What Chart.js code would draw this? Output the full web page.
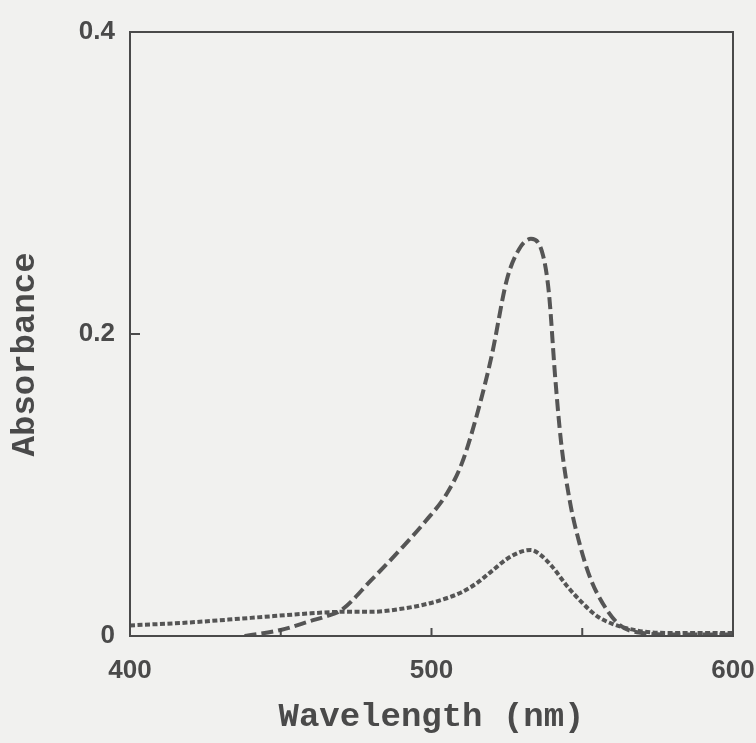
<!DOCTYPE html>
<html>
<head>
<meta charset="utf-8">
<script src="https://cdn.jsdelivr.net/npm/chart.js@4"></script>
<style>
  html, body { margin: 0; padding: 0; background: #f1f1ef; }
  #wrap { width: 756px; height: 743px; }
</style>
</head>
<body>
<div id="wrap"><canvas id="chart" width="756" height="743"></canvas></div>
<script>
// long-dash curve
const dashWl  = [438, 450, 460, 465, 470, 480, 490, 498, 505, 510, 515, 520, 525, 529, 533, 537, 539, 541, 543, 546, 549, 552, 555, 562, 570, 580, 590, 600]
const dashAbs = [0.000, 0.004, 0.010, 0.013, 0.017, 0.037, 0.058, 0.076, 0.094, 0.114, 0.146, 0.186, 0.236, 0.256, 0.263, 0.252, 0.226, 0.172, 0.128, 0.088, 0.062, 0.042, 0.028, 0.008, 0.002, 0.001, 0.001, 0.001]

// dotted curve
const dotWl  = [400, 420, 440, 460, 470, 480, 490, 498, 505, 510, 515, 520, 525, 530, 533, 536, 540, 545, 550, 555, 560, 565, 570, 580, 590, 600]
const dotAbs = [0.007, 0.009, 0.012, 0.015, 0.016, 0.016, 0.018, 0.021, 0.025, 0.029, 0.035, 0.043, 0.051, 0.056, 0.057, 0.054, 0.046, 0.033, 0.022, 0.013, 0.008, 0.005, 0.003, 0.002, 0.002, 0.002]

const xLabels = [400, 500, 600]
const yLabels = [0, 0.2, 0.4]

const ink = "#4a4a4a"
const lineInk = "#555555"

const toPoints = (xs, ys) => xs.map((x, i) => ({ x: x, y: ys[i] }))

// frame + inward ticks
const frame = {
  id: "frame",
  afterDatasetsDraw(c) {
    const ctx = c.ctx
    const a = c.chartArea
    const xs = c.scales.x
    const ys = c.scales.y
    ctx.save()
    ctx.strokeStyle = ink
    ctx.lineWidth = 2
    ctx.strokeRect(a.left, a.top, a.right - a.left, a.bottom - a.top)
    ctx.beginPath()
    xs.ticks.forEach(t => {
      if (t.value <= xs.min || t.value >= xs.max) return
      const px = xs.getPixelForValue(t.value)
      ctx.moveTo(px, a.bottom)
      ctx.lineTo(px, a.bottom - 8)
    })
    ys.ticks.forEach(t => {
      if (t.value <= ys.min || t.value >= ys.max) return
      const py = ys.getPixelForValue(t.value)
      ctx.moveTo(a.left, py)
      ctx.lineTo(a.left + 10, py)
    })
    ctx.stroke()
    ctx.restore()
  }
}

new Chart(document.querySelector("#chart"), {
  type: "line",
  data: {
    datasets: [
      {
        label: "dashed",
        data: toPoints(dashWl, dashAbs),
        borderColor: lineInk,
        borderWidth: 4,
        borderDash: [12, 5],
        pointRadius: 0,
        fill: false,
        cubicInterpolationMode: "monotone"
      },
      {
        label: "dotted",
        data: toPoints(dotWl, dotAbs),
        borderColor: lineInk,
        borderWidth: 4,
        borderDash: [5, 2.5],
        pointRadius: 0,
        fill: false,
        cubicInterpolationMode: "monotone"
      }
    ]
  },
  options: {
    responsive: false,
    animation: false,
    layout: { padding: { top: 32, right: 23, left: 0, bottom: 0 } },
    plugins: { legend: { display: false }, tooltip: { enabled: false } },
    scales: {
      x: {
        type: "linear",
        min: 400,
        max: 600,
        grid: { display: false, drawTicks: false },
        border: { display: false },
        ticks: {
          stepSize: 50,
          padding: 0,
          color: ink,
          // tall line box pushes the labels down without adding side padding
          font: { family: "Liberation Sans", size: 26, weight: "bold", lineHeight: 2.7 },
          callback: v => xLabels.includes(v) ? String(v) : ""
        },
        title: {
          display: true,
          text: "Wavelength (nm)",
          color: ink,
          padding: { top: 0, bottom: 5 },
          font: { family: "Liberation Mono", size: 34, weight: "bold" }
        },
        afterFit: s => { s.height = 107 }
      },
      y: {
        min: 0,
        max: 0.4,
        grid: { display: false, drawTicks: false },
        border: { display: false },
        ticks: {
          stepSize: 0.2,
          padding: 15,
          color: ink,
          font: { family: "Liberation Sans", size: 26, weight: "bold" },
          callback: v => {
            const hit = yLabels.find(l => Math.abs(l - v) < 1e-9)
            return hit === undefined ? "" : String(hit)
          }
        },
        title: {
          display: true,
          text: "Absorbance  ",
          color: ink,
          padding: { top: 5, bottom: 0 },
          font: { family: "Liberation Mono", size: 34, weight: "bold" }
        },
        afterFit: s => { s.width = 130 }
      }
    }
  },
  plugins: [frame]
})
</script>
</body>
</html>
